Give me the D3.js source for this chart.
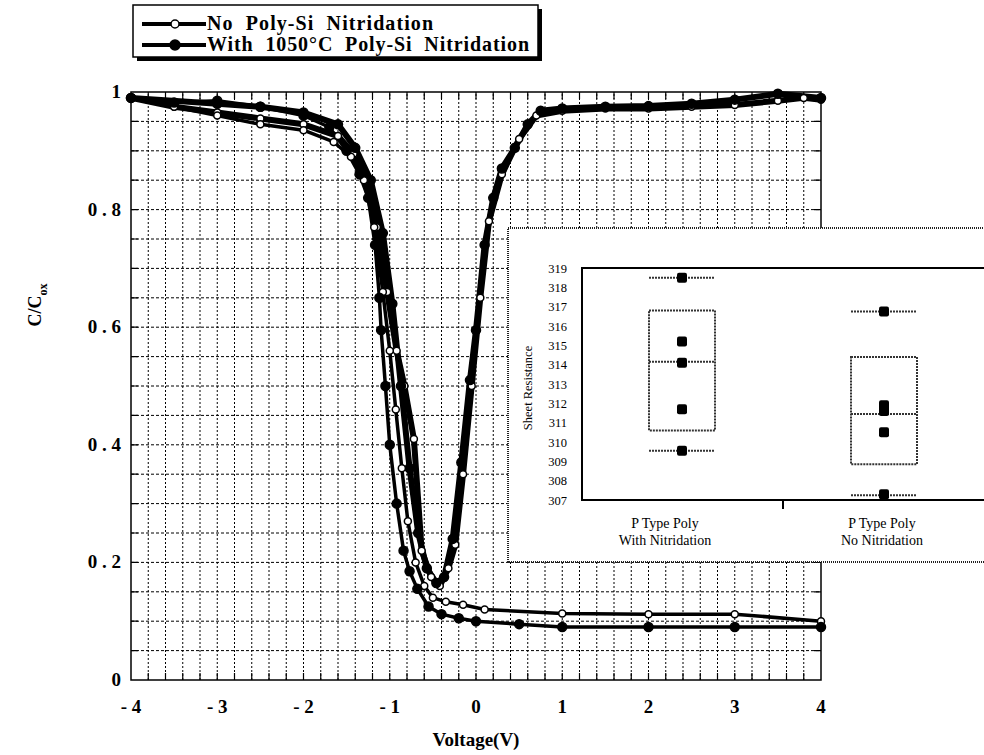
<!DOCTYPE html>
<html>
<head>
<meta charset="utf-8">
<script src="https://cdn.jsdelivr.net/npm/d3@7"></script>
<style>
  body { margin: 0; background: #fff; }
  text { font-family: "Liberation Serif", "Times New Roman", serif; }
</style>
</head>
<body>
<script>
// C-V curves (Voltage, C/Cox)
const noNitHF = [[-4,0.99],[-3.5,0.975],[-3,0.96],[-2.5,0.945],[-2,0.935],[-1.65,0.915],[-1.45,0.89],[-1.3,0.85],[-1.18,0.77],[-1.08,0.66],[-1.0,0.56],[-0.93,0.46],[-0.86,0.36],[-0.79,0.27],[-0.7,0.20],[-0.6,0.16],[-0.5,0.14],[-0.35,0.133],[-0.15,0.128],[0.1,0.12],[1,0.113],[2,0.112],[3,0.112],[4,0.10]]
const withNitHF = [[-4,0.99],[-3.5,0.982],[-3,0.985],[-2.5,0.975],[-2,0.96],[-1.7,0.94],[-1.5,0.90],[-1.35,0.86],[-1.25,0.82],[-1.17,0.74],[-1.12,0.65],[-1.1,0.595],[-1.05,0.50],[-1.0,0.40],[-0.92,0.30],[-0.84,0.22],[-0.77,0.185],[-0.68,0.155],[-0.55,0.125],[-0.4,0.112],[-0.2,0.105],[0,0.10],[0.5,0.095],[1,0.09],[2,0.09],[3,0.09],[4,0.09]]
const noNitLF = [[-4,0.99],[-3.5,0.975],[-3,0.965],[-2.5,0.955],[-2,0.945],[-1.6,0.925],[-1.42,0.895],[-1.28,0.85],[-1.15,0.77],[-1.03,0.66],[-0.92,0.56],[-0.83,0.50],[-0.72,0.41],[-0.63,0.22],[-0.52,0.175],[-0.42,0.16],[-0.32,0.19],[-0.24,0.23],[-0.15,0.35],[-0.05,0.50],[0.05,0.65],[0.15,0.78],[0.3,0.86],[0.5,0.92],[0.7,0.96],[1,0.968],[1.5,0.972],[2,0.972],[2.5,0.975],[3,0.978],[3.5,0.985],[3.8,0.99],[4,0.987]]
const withNitLF = [[-4,0.99],[-3,0.98],[-2.5,0.975],[-2,0.965],[-1.6,0.945],[-1.4,0.905],[-1.22,0.85],[-1.08,0.76],[-0.97,0.64],[-0.87,0.50],[-0.77,0.36],[-0.67,0.25],[-0.57,0.19],[-0.46,0.165],[-0.37,0.175],[-0.27,0.24],[-0.17,0.37],[-0.07,0.51],[0,0.595],[0.1,0.74],[0.2,0.82],[0.3,0.87],[0.45,0.905],[0.6,0.945],[0.75,0.968],[1,0.972],[1.5,0.975],[2,0.976],[2.5,0.98],[3,0.987],[3.5,0.997],[4,0.99]]

const vTicks = [-4,-3,-2,-1,0,1,2,3,4]
const vTickLabels = ["- 4","- 3","- 2","- 1","0","1","2","3","4"]
const cTicks = [0,0.2,0.4,0.6,0.8,1]
const cTickLabels = ["0","0 . 2","0 . 4","0 . 6","0 . 8","1"]

// inset box plot (sheet resistance)
const insetCats = ["With Nitridation","No Nitridation"]
const boxLow = [310.6, 308.85]
const boxHigh = [316.8, 314.4]
const boxMedian = [314.15, 311.45]
const whiskLow = [309.55, 307.25]
const whiskHigh = [318.5, 316.75]
const samples = [[318.5,315.2,314.1,311.7,309.55],[316.75,311.9,311.6,310.5,307.3]]
const insetTicks = [307,308,309,310,311,312,313,314,315,316,317,318,319]

const width = 984, height = 755

var svg = d3.select("body").append("svg")
    .attr("width", width)
    .attr("height", height)

svg.append("rect").attr("width", width).attr("height", height).attr("fill", "#fff")

var x = d3.scaleLinear().domain([-4, 4]).range([131, 821])
var y = d3.scaleLinear().domain([0, 1]).range([680, 92])

//Grid
var grid = svg.append("g")
grid.selectAll(".gv")
    .data(d3.range(-3.8, 4, 0.2))
    .enter().append("line")
    .attr("x1", d => x(d)).attr("x2", d => x(d))
    .attr("y1", y(0)).attr("y2", y(1))
    .attr("stroke", "#000").attr("stroke-width", 1).attr("stroke-dasharray", "2,2")
grid.selectAll(".gh")
    .data(d3.range(0.05, 1, 0.05))
    .enter().append("line")
    .attr("y1", d => y(d)).attr("y2", d => y(d))
    .attr("x1", x(-4)).attr("x2", x(4))
    .attr("stroke", "#000").attr("stroke-width", 1).attr("stroke-dasharray", "3,2")

//small ticks on the frame
grid.selectAll(".tb")
    .data(d3.range(-3.8, 4, 0.2))
    .enter().append("path")
    .attr("d", d => `M${x(d)},${y(0)}v-7M${x(d)},${y(1)}v7`)
    .attr("stroke", "#000").attr("stroke-width", 1.2)
grid.selectAll(".tl")
    .data(d3.range(0.05, 1, 0.05))
    .enter().append("path")
    .attr("d", d => `M${x(-4)},${y(d)}h7M${x(4)},${y(d)}h-7`)
    .attr("stroke", "#000").attr("stroke-width", 1.2)

//Frame
svg.append("rect")
    .attr("x", x(-4)).attr("y", y(1))
    .attr("width", x(4) - x(-4)).attr("height", y(0) - y(1))
    .attr("fill", "none").attr("stroke", "#000").attr("stroke-width", 1.5)

//Axis labels
svg.append("g").selectAll("text")
    .data(vTicks)
    .enter().append("text")
    .attr("x", d => x(d)).attr("y", 713)
    .attr("text-anchor", "middle")
    .style("font-size", "19px").style("font-weight", "bold")
    .style("white-space", "pre")
    .text((d, i) => vTickLabels[i])

svg.append("g").selectAll("text")
    .data(cTicks)
    .enter().append("text")
    .attr("x", 121).attr("y", d => y(d) + 6)
    .attr("text-anchor", "end")
    .style("font-size", "19px").style("font-weight", "bold")
    .text((d, i) => cTickLabels[i])

svg.append("text")
    .attr("x", 476).attr("y", 746)
    .attr("text-anchor", "middle")
    .style("font-size", "19px").style("font-weight", "bold")
    .text("Voltage(V)")

var ytitle = svg.append("text")
    .attr("transform", "translate(41,305) rotate(-90)")
    .attr("text-anchor", "middle")
    .style("font-size", "18px").style("font-weight", "bold")
ytitle.append("tspan").text("C/C")
ytitle.append("tspan").attr("dy", 6).style("font-size", "12px").text("ox")

//Curves
var line = d3.line()
    .x(d => x(d[0]))
    .y(d => y(d[1]))

var curves = [
    {data: noNitLF, w: 6, open: true},
    {data: withNitLF, w: 6, open: false},
    {data: noNitHF, w: 3.5, open: true},
    {data: withNitHF, w: 3.5, open: false}
]

curves.forEach(c => {
    svg.append("path")
        .datum(c.data)
        .attr("d", line)
        .attr("fill", "none")
        .attr("stroke", "#000")
        .attr("stroke-width", c.w)
        .attr("stroke-linejoin", "round")
        .attr("stroke-linecap", "round")
})
curves.forEach(c => {
    svg.append("g").selectAll("circle")
        .data(c.data)
        .enter().append("circle")
        .attr("cx", d => x(d[0])).attr("cy", d => y(d[1]))
        .attr("r", c.open ? 3.5 : 4.5)
        .attr("fill", c.open ? "#fff" : "#000")
        .attr("stroke", "#000").attr("stroke-width", 1.5)
})

//Inset
var inset = svg.append("g")
inset.append("rect")
    .attr("x", 508).attr("y", 228)
    .attr("width", 490).attr("height", 334)
    .attr("fill", "#fff")
    .attr("stroke", "#222").attr("stroke-width", 2).attr("stroke-dasharray", "1,1")

var xi = d3.scalePoint().domain(insetCats).range([682, 884])
var yi = d3.scaleLinear().domain([307, 319]).range([500, 268])

inset.append("path")
    .attr("d", `M990,${yi(319)}H582V${yi(307)}H990`)
    .attr("fill", "none").attr("stroke", "#000").attr("stroke-width", 2)
inset.append("path")
    .attr("d", `M783,${yi(307)}v9`)
    .attr("stroke", "#000").attr("stroke-width", 2)

inset.append("g").selectAll("text")
    .data(insetTicks)
    .enter().append("text")
    .attr("x", 567).attr("y", d => yi(d) + 4.5)
    .attr("text-anchor", "end")
    .style("font-size", "12.5px")
    .text(d => d)

inset.append("text")
    .attr("transform", "translate(532,388) rotate(-90)")
    .attr("text-anchor", "middle")
    .style("font-size", "12.5px")
    .text("Sheet Resistance")

var catLabels = inset.append("g").selectAll("text")
    .data(insetCats)
    .enter().append("text")
    .attr("x", (d, i) => xi(d) - (i === 0 ? 17 : 2))
    .attr("y", 528)
    .attr("text-anchor", "middle")
    .style("font-size", "14px")
catLabels.append("tspan").text("P Type Poly")
catLabels.append("tspan").attr("x", (d, i) => xi(d) - (i === 0 ? 17 : 2)).attr("dy", 17).text(d => d)

var boxW = 66
insetCats.forEach((cat, i) => {
    var cx = xi(cat)
    var g = inset.append("g")
        .attr("stroke", "#333").attr("stroke-width", 2).attr("stroke-dasharray", "2,1").attr("fill", "none")
    g.append("rect")
        .attr("x", cx - boxW / 2).attr("y", yi(boxHigh[i]))
        .attr("width", boxW).attr("height", yi(boxLow[i]) - yi(boxHigh[i]))
    g.append("line").attr("x1", cx - boxW / 2).attr("x2", cx + boxW / 2)
        .attr("y1", yi(boxMedian[i])).attr("y2", yi(boxMedian[i]))
    g.append("line").attr("x1", cx - boxW / 2).attr("x2", cx + boxW / 2)
        .attr("y1", yi(whiskLow[i])).attr("y2", yi(whiskLow[i]))
    g.append("line").attr("x1", cx - boxW / 2).attr("x2", cx + boxW / 2)
        .attr("y1", yi(whiskHigh[i])).attr("y2", yi(whiskHigh[i]))
    inset.append("g").selectAll("rect")
        .data(samples[i])
        .enter().append("rect")
        .attr("x", cx - 5).attr("y", d => yi(d) - 5)
        .attr("width", 10).attr("height", 10)
        .attr("rx", 2)
        .attr("fill", "#000")
})

//Legend
var legend = svg.append("g")
legend.append("rect")
    .attr("x", 137).attr("y", 9).attr("width", 405).attr("height", 52)
    .attr("fill", "#000")
legend.append("rect")
    .attr("x", 133).attr("y", 5).attr("width", 405).attr("height", 52)
    .attr("fill", "#fff").attr("stroke", "#000").attr("stroke-width", 1.5)

var legendItems = [
    {label: "No  Poly-Si  Nitridation", open: true, y: 24, len: 226},
    {label: "With  1050°C  Poly-Si  Nitridation", open: false, y: 45, len: 322}
]
legendItems.forEach(it => {
    legend.append("line")
        .attr("x1", 142).attr("x2", 206).attr("y1", it.y).attr("y2", it.y)
        .attr("stroke", "#000").attr("stroke-width", 4)
    legend.append("circle")
        .attr("cx", 175).attr("cy", it.y).attr("r", it.open ? 4 : 5)
        .attr("fill", it.open ? "#fff" : "#000")
        .attr("stroke", "#000").attr("stroke-width", 1.5)
    legend.append("text")
        .attr("x", 207).attr("y", it.y + 6)
        .attr("textLength", it.len)
        .attr("lengthAdjust", "spacing")
        .style("white-space", "pre")
        .style("font-size", "20px").style("font-weight", "bold")
        .text(it.label)
})
</script>
</body>
</html>
